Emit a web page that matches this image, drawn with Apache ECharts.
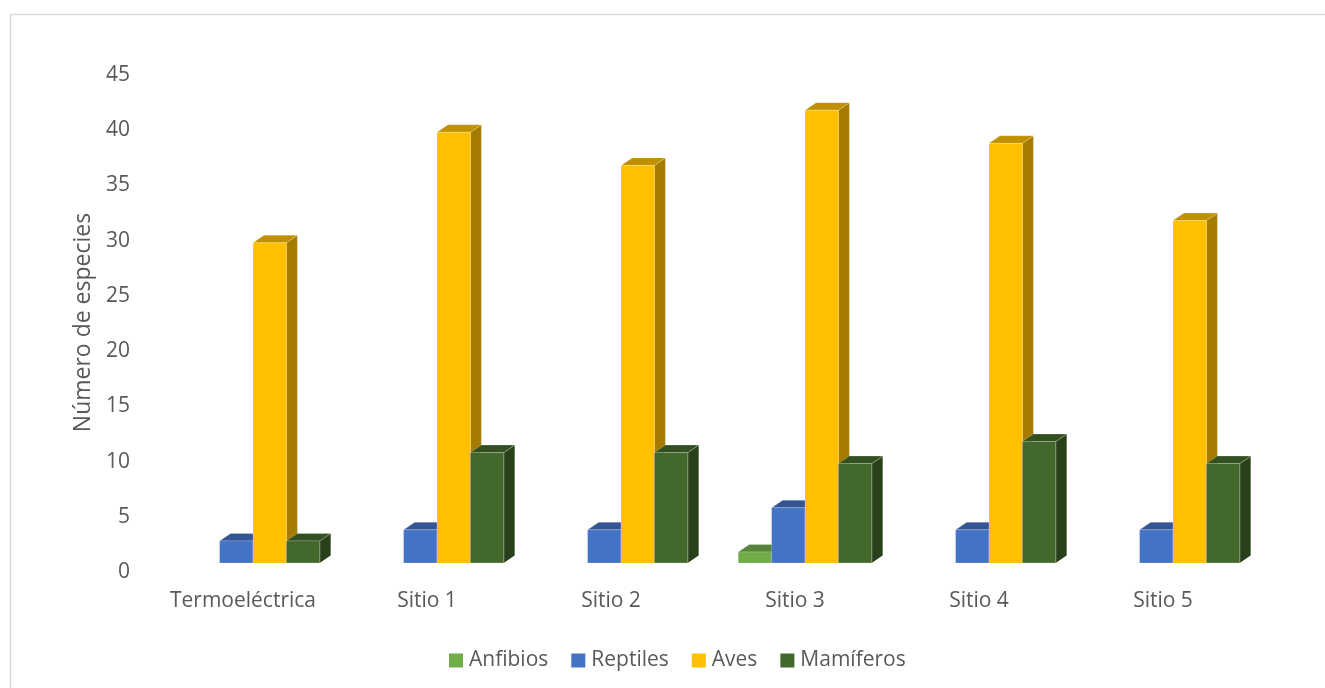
<!DOCTYPE html>
<html>
<head>
<meta charset="utf-8">
<style>html,body{margin:0;padding:0;background:#fff}#c{width:1325px;height:688px}</style>
<script src="https://cdn.jsdelivr.net/npm/echarts@6/dist/echarts.min.js"></script>
</head>
<body>
<div id="c"></div>
<script>
const categories = ['Termoeléctrica','Sitio 1','Sitio 2','Sitio 3','Sitio 4','Sitio 5'];
const anfibios  = [0,0,0,1,0,0];
const reptiles  = [2,3,3,5,3,3];
const aves      = [29,39,36,41,38,31];
const mamiferos = [2,10,10,9,11,9];
const yTicks = [0,5,10,15,20,25,30,35,40,45];

const seriesDefs = [
  {name:'Anfibios', data:anfibios, front:'#70AD47', top:'#55843A', side:'#43682B', slot:0},
  {name:'Reptiles', data:reptiles, front:'#4472C4', top:'#335593', side:'#2A4679', slot:1},
  {name:'Aves', data:aves, front:'#FFC000', top:'#C09000', side:'#A67C00', slot:2},
  {name:'Mamíferos', data:mamiferos, front:'#43682B', top:'#325020', side:'#29411B', slot:3}
];
const DX = 11, DY = 7.5;

function render3d(def){
  return function(params, api){
    const v = api.value(1);
    if (!v) return null;
    const cat = api.value(0);
    const base = api.coord([cat, 0]);
    const top = api.coord([cat, v]);
    const w = api.size([1,0])[0] * 0.1815;
    const x0 = base[0] + (def.slot - 2) * w;
    const x1 = x0 + w;
    const y0 = top[1], y1 = base[1];
    const edge = {stroke:'rgba(255,255,255,0.35)', lineWidth:0.6};
    return {type:'group', children:[
      {type:'polygon', shape:{points:[[x1,y0],[x1+DX,y0-DY],[x1+DX,y1-DY],[x1,y1]]}, style:Object.assign({fill:def.side},edge)},
      {type:'polygon', shape:{points:[[x0,y0],[x0+DX,y0-DY],[x1+DX,y0-DY],[x1,y0]]}, style:Object.assign({fill:def.top},edge)},
      {type:'rect', shape:{x:x0,y:y0,width:w,height:y1-y0}, style:Object.assign({fill:def.front},edge)}
    ]};
  };
}

const chart = echarts.init(document.getElementById('c'), null, {renderer:'canvas'});
const txt = '#595959', fam = '"Open Sans", sans-serif';
chart.setOption({
  animation:false,
  backgroundColor:'#fff',
  graphic:[
    {type:'line', silent:true, shape:{x1:10.5,y1:14.5,x2:1325,y2:14.5}, style:{stroke:'#d9d9d9',lineWidth:1.5}},
    {type:'line', silent:true, shape:{x1:10.5,y1:14.5,x2:10.5,y2:688}, style:{stroke:'#d9d9d9',lineWidth:1.5}}
  ],
  grid:{left:161,right:60,top:66,bottom:125,containLabel:false},
  legend:{
    left:449, top:650, padding:0, itemWidth:14, itemHeight:14, itemGap:23,
    icon:'rect',
    textStyle:{color:txt,fontFamily:fam,fontSize:21,padding:[0,0,0,1]},
    data:seriesDefs.map(d=>d.name)
  },
  xAxis:{
    type:'category', data:categories,
    axisLine:{show:false}, axisTick:{show:false}, splitLine:{show:false},
    axisLabel:{color:txt,fontFamily:fam,fontSize:21,margin:28,padding:[0,20,0,0],interval:0}
  },
  yAxis:{
    type:'value', min:0, max:45, interval:5,
    name:'Número de especies', nameLocation:'middle', nameGap:65,
    nameTextStyle:{color:txt,fontFamily:fam,fontSize:23,padding:[0,16,0,0]},
    axisLine:{show:false}, axisTick:{show:false}, splitLine:{show:false},
    axisLabel:{color:txt,fontFamily:fam,fontSize:21,margin:31,verticalAlign:'top',lineHeight:18,
      formatter:v=>String(yTicks[yTicks.indexOf(v)])}
  },
  series:seriesDefs.map(def=>({
    name:def.name, type:'custom',
    itemStyle:{color:def.front},
    encode:{x:0,y:1},
    renderItem:render3d(def),
    data:def.data.map((v,i)=>[i,v])
  }))
});
</script>
</body>
</html>
